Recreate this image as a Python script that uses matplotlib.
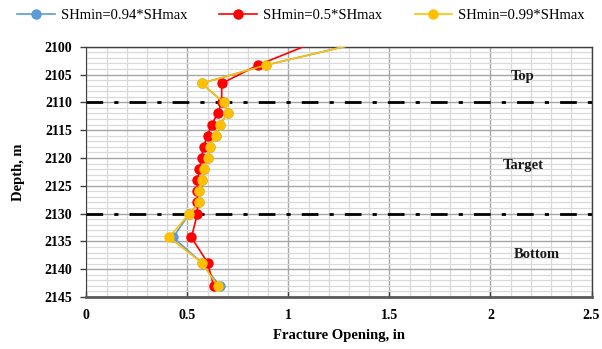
import matplotlib
matplotlib.use("Agg")
import matplotlib.pyplot as plt
from matplotlib.ticker import MultipleLocator

# Fracture opening profiles along depth for three horizontal stress ratios
depth = [2096.7, 2103.3, 2106.6, 2110, 2112, 2114, 2116, 2118, 2120, 2122,
         2124, 2126, 2128, 2130, 2134.3, 2138.8, 2143]
open_094 = [1.66, 0.89, 0.57, 0.68, 0.70, 0.66, 0.64, 0.61, 0.60, 0.58,
            0.57, 0.56, 0.56, 0.51, 0.43, 0.57, 0.66]
open_050 = [1.30, 0.85, 0.67, 0.67, 0.65, 0.62, 0.60, 0.58, 0.57, 0.56,
            0.55, 0.55, 0.55, 0.55, 0.52, 0.60, 0.63]
open_099 = [1.66, 0.89, 0.57, 0.68, 0.70, 0.66, 0.64, 0.61, 0.60, 0.58,
            0.57, 0.56, 0.56, 0.51, 0.41, 0.57, 0.65]

zone_depths = [2110, 2130]
zone_labels = ["Top", "Target", "Bottom"]
zone_label_pos = [(2.16, 2105.4), (2.16, 2121.4), (2.23, 2137.4)]

plt.rcParams["font.family"] = ["Liberation Serif", "DejaVu Serif"]

fig = plt.figure(figsize=(6.02, 3.49), dpi=100)
ax = fig.add_axes([0.1434, 0.149, 0.8392, 0.7172])

series = [
    (open_094, "#5B9BD5", "SHmin=0.94*SHmax"),
    (open_050, "#FF0000", "SHmin=0.5*SHmax"),
    (open_099, "#FFC000", "SHmin=0.99*SHmax"),
]
for vals, color, label in series:
    ax.plot(vals, depth, color=color, lw=1.2, marker="o", ms=6.5,
            mec=color, mfc=color, label=label, zorder=4)

for d in zone_depths:
    ax.axhline(d, color="black", lw=2.0, dashes=(6, 4, 1.5, 4), zorder=3)

for text, (x, y) in zip(zone_labels, zone_label_pos):
    ax.text(x, y, text, ha="center", va="center", fontsize=10.5,
            fontweight="bold", color="#1a1a1a")

ax.set_xlim(0, 2.5)
ax.set_ylim(2145, 2100)
ax.xaxis.set_major_locator(MultipleLocator(0.5))
ax.xaxis.set_minor_locator(MultipleLocator(0.1))
ax.yaxis.set_major_locator(MultipleLocator(5))
ax.yaxis.set_minor_locator(MultipleLocator(1))

ax.grid(which="major", color="#A6A6A6", lw=1.0, zorder=1)
ax.grid(which="minor", color="#D9D9D9", lw=0.9, zorder=0)
ax.set_axisbelow(True)

ax.tick_params(which="minor", length=0)
ax.tick_params(which="major", length=4, width=1, color="#404040",
               labelsize=10, pad=6)
ax.tick_params(axis="x", direction="in", length=4, pad=9)

xticks = [0, 0.5, 1, 1.5, 2, 2.5]
ax.set_xticks(xticks)
ax.set_xticklabels(["0", "0.5", "1", "1.5", "2", "2.5"], fontweight="bold")
for lab in ax.get_yticklabels():
    lab.set_fontweight("bold")

for side in ["top", "right"]:
    ax.spines[side].set_color("#404040")
    ax.spines[side].set_linewidth(1.0)
ax.spines["left"].set_color("#404040")
ax.spines["bottom"].set_color("#595959")
ax.spines["bottom"].set_linewidth(2.0)

ax.set_xlabel("Fracture Opening, in", fontsize=10.5, fontweight="bold",
              labelpad=5)
ax.set_ylabel("Depth, m", fontsize=10.5, fontweight="bold", labelpad=14)

handles, labels = ax.get_legend_handles_labels()
fig.legend(handles, labels, loc="center", bbox_to_anchor=(0.5, 0.957),
           ncol=3, frameon=False, fontsize=10.5, handlelength=2.6,
           columnspacing=2.2, handletextpad=0.4)

fig.savefig("out.png", dpi=100)
